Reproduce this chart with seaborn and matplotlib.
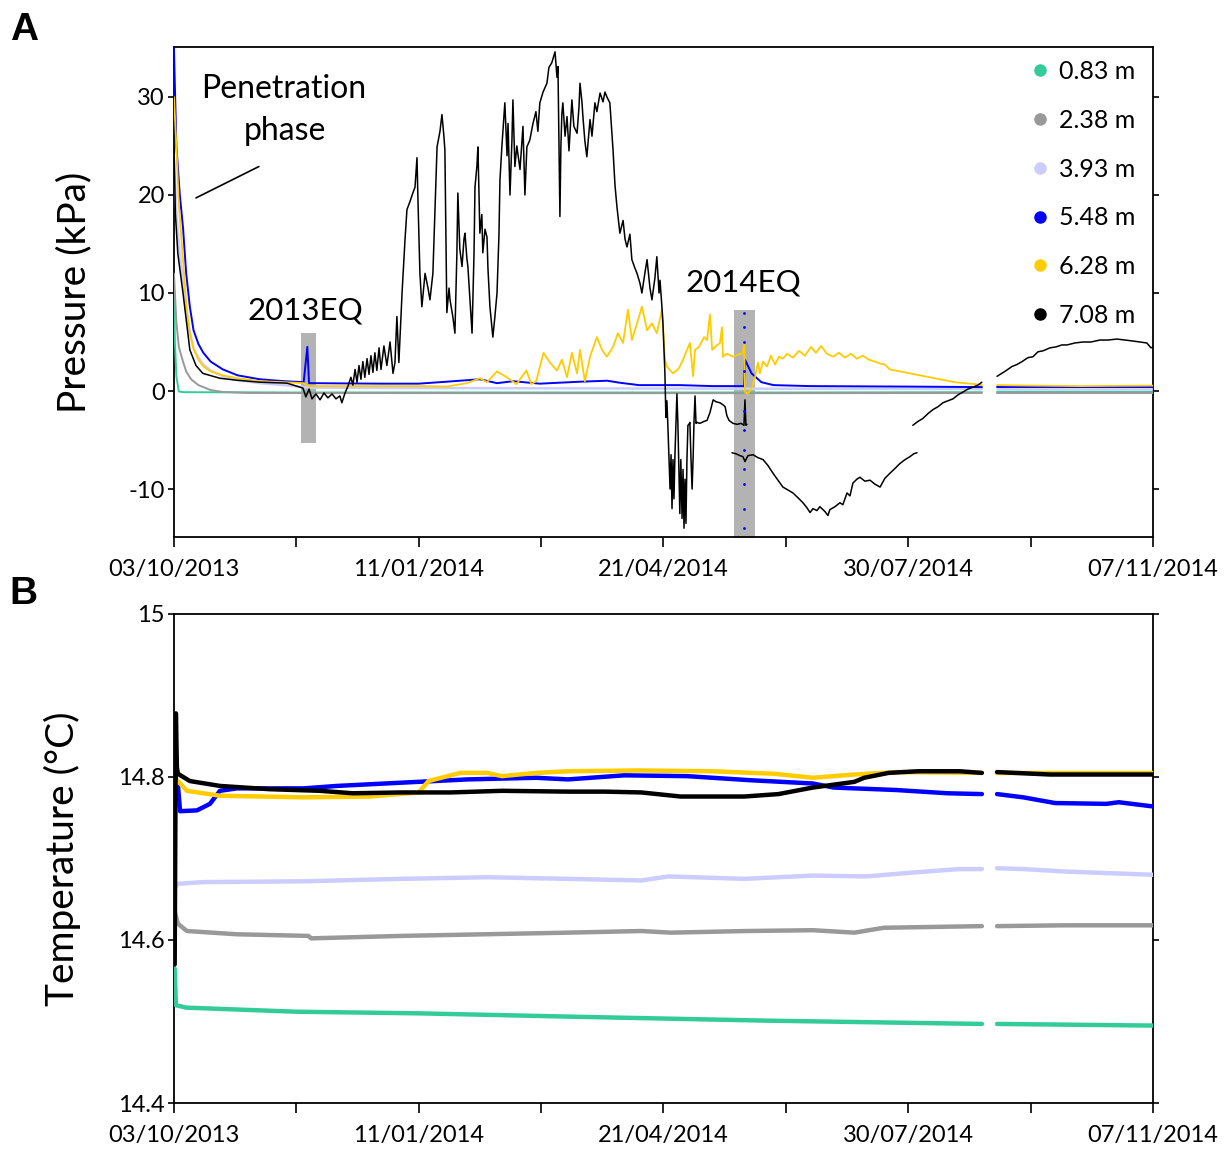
import numpy as np
import pandas as pd
import matplotlib
matplotlib.use("Agg")
import matplotlib.pyplot as plt
import matplotlib.dates as mdates
from matplotlib.lines import Line2D
from matplotlib.ticker import FixedLocator, FixedFormatter, FuncFormatter
import seaborn as sns

# ---------------------------------------------------------------------------
# Data: days since deployment (03/10/2013) and readings
# ---------------------------------------------------------------------------
START = pd.Timestamp("2013-10-03")

DEPTHS = ["0.83 m", "2.38 m", "3.93 m", "5.48 m", "6.28 m", "7.08 m"]
COLORS = ["#33CC99", "#999999", "#CCCCFF", "#0000FF", "#FFCC00", "#000000"]

# Pressure (kPa), each sensor given as a list of continuous segments of (day, value)
P_083 = [[(0, 11), (0.4, 5), (1.0, 1.5), (2.0, -0.05), (4, -0.12), (50, -0.15), (150, -0.15),
          (250, -0.15), (330.1, -0.12)],
         [(336.3, -0.12), (400, -0.12)]]
P_238 = [[(0, 12), (1.0, 7), (2.0, 4.5), (3.7, 3.0), (5.0, 2.0), (7.0, 1.2), (10, 0.6), (15, 0.1),
          (20, -0.1), (30, -0.2), (150, -0.22), (250, -0.22), (330.1, -0.2)],
         [(336.3, -0.2), (400, -0.2)]]
P_393 = [[(0, 24), (1.0, 18), (2.4, 14), (3.7, 11), (5.0, 8), (6.5, 6), (8.0, 4.4), (10, 3.4),
          (12, 2.7), (15, 2.1), (20, 1.5), (26, 1.1), (35, 0.8), (45, 0.6), (55, 0.35),
          (100, 0.3), (200, 0.25), (330.1, 0.2)],
         [(336.3, 0.2), (400, 0.2)]]
P_548 = [[(0, 35), (1.0, 25), (2.4, 20), (3.7, 16.7), (5.0, 12), (6.5, 8.6), (8.0, 6.2), (10, 4.8),
          (12, 3.9), (15, 3.0), (20, 2.2), (26, 1.6), (35, 1.2), (45, 1.0), (53, 0.9), (54.5, 4.5),
          (55.2, 0.8), (85, 0.75), (100, 0.75), (111.5, 0.95), (125, 1.2), (132, 0.8), (138.5, 1.0),
          (149.5, 0.75), (166, 0.95), (177, 1.05), (182, 0.85), (190, 0.6), (206.7, 0.6),
          (220, 0.5), (233.0, 0.5), (233.3, 3.2), (236, 1.8), (240, 0.9), (245, 0.6), (260, 0.5),
          (300, 0.45), (330.1, 0.4)],
         [(336.3, 0.4), (370, 0.4), (400, 0.4)]]
P_628 = [[(0, 30), (1.0, 25), (2.0, 19), (3.7, 13.4), (5.0, 9), (6.5, 5.9), (8.0, 4.3), (10, 3.2),
          (12, 2.5), (15, 2.0), (20, 1.6), (26, 1.3), (35, 1.0), (45, 0.9), (53, 0.8), (55, 0.5),
          (80, 0.5), (100, 0.5), (111.5, 0.45), (119.7, 0.8), (125, 1.3), (127.9, 0.9), (132, 2.0),
          (136, 1.4), (140, 0.7), (144, 2.1), (146, 0.7), (148, 1.0), (151, 3.9), (153.6, 2.9),
          (156.5, 2.1), (158.5, 3.2), (160.6, 1.4), (162.6, 3.9), (164.7, 1.8), (165.9, 4.2),
          (167.9, 1.0), (170, 3.5), (172.8, 5.5), (174.9, 4.2), (176.9, 3.5), (179.4, 4.5),
          (181.4, 5.9), (183.5, 4.9), (185.5, 8.3), (187.1, 5.2), (189.2, 6.9), (191.2, 8.6),
          (193.3, 6.2), (195.3, 6.9), (197.3, 5.9), (199.4, 8.3), (200.6, 3.2), (201.4, 2.5),
          (203.9, 1.8), (206.3, 2.3), (208.0, 3.2), (210.8, 4.9), (212.1, 1.5), (212.9, 4.2),
          (214.5, 4.5), (216.6, 5.5), (217.8, 5.2), (219.0, 7.8), (219.9, 4.2), (221.5, 4.6),
          (223.1, 4.9), (223.9, 6.5), (224.3, 3.5), (226.0, 3.8), (228.4, 3.5), (230.5, 3.7),
          (232.5, 3.9), (233.0, 5.0), (233.3, -0.1), (234.5, -0.3), (236.2, 0.4), (237.5, 1.5),
          (238.6, 2.9), (239.4, 1.8), (240.7, 3.0), (242.3, 2.5), (243.9, 3.6), (245.6, 2.7),
          (247.2, 3.5), (248.8, 3.3), (250.5, 3.8), (252.9, 3.4), (255.4, 4.1), (257.8, 3.6),
          (260.3, 4.5), (262.3, 3.9), (264.4, 4.6), (266.8, 3.8), (269.3, 3.5), (271.7, 3.9),
          (274.2, 3.4), (276.6, 3.8), (279.0, 3.3), (281.5, 3.6), (283.9, 3.2), (286.4, 3.0),
          (288.5, 2.8), (290.5, 2.7), (292.5, 2.2), (294.6, 2.1), (298.7, 1.9), (302.7, 1.7),
          (306.8, 1.5), (310.9, 1.3), (314.9, 1.1), (319.0, 0.9), (323.1, 0.8), (327.2, 0.7),
          (330.1, 0.6)],
         [(336.3, 0.6), (350, 0.55), (370, 0.5), (400, 0.55)]]
P_708 = [[(0, 25), (0.6, 18), (1.6, 14), (3.7, 10), (6.5, 4.2), (9.0, 2.6), (11.8, 1.8), (18.8, 1.3),
          (25.7, 1.1), (35.1, 0.9), (46.2, 0.8), (52.7, 0.3), (53.9, -0.6), (55.2, 0.2), (56.4, -0.8),
          (58.0, -0.3), (59.7, -0.9), (61.3, -0.2), (62.9, -0.7), (64.6, -0.3), (66.2, -0.8),
          (67.8, -0.5), (68.6, -1.2), (69.9, -0.2), (71.1, 0.5), (72.3, 1.4), (73.1, 0.6),
          (74.0, 2.2), (74.8, 0.9), (75.6, 2.6), (76.4, 1.2), (77.2, 3.0), (78.0, 1.4), (78.9, 3.3),
          (79.7, 1.7), (80.5, 3.6), (81.3, 1.9), (82.1, 3.9), (82.9, 2.1), (83.8, 4.4), (84.6, 2.2),
          (85.8, 4.6), (87.0, 2.6), (88.3, 5.0), (89.5, 1.8), (90.3, 2.9), (91.1, 7.6), (91.9, 2.9),
          (93.2, 10), (94.4, 15.4), (95.2, 18.5), (96.4, 19.3), (97.6, 20.2), (98.5, 20.8),
          (99.3, 23.8), (99.7, 19.5), (100.5, 12), (101.3, 8.6), (102.6, 12), (103.8, 10.5),
          (104.6, 9.3), (105.8, 12), (106.6, 18), (107.5, 24.9), (108.7, 26.5), (109.5, 28.2),
          (110.3, 26), (110.7, 24.6), (111.5, 8), (112.4, 10.5), (112.8, 9.3), (114.0, 7.5),
          (114.8, 5.9), (115.6, 14), (116.0, 20.2), (116.8, 14.5), (117.7, 12.7), (118.5, 15.5),
          (118.9, 16.1), (119.7, 13.5), (120.1, 12.7), (120.9, 9.5), (121.8, 5.9), (122.6, 14),
          (123.0, 20.8), (123.8, 23), (124.2, 24.9), (125.0, 16.1), (125.8, 18), (126.2, 14.1),
          (127.1, 16.5), (127.9, 15.7), (128.3, 12.5), (129.1, 8.6), (130.3, 5.5), (131.1, 7.5),
          (132.0, 10), (132.8, 16), (133.2, 21.5), (134.0, 25), (135.2, 29.4), (136.1, 24),
          (136.5, 27.3), (137.3, 20), (138.1, 25.6), (138.5, 29.7), (139.3, 22.9), (140.1, 25),
          (141.4, 22.6), (142.6, 27), (143.4, 20), (144.2, 24.9), (145.4, 25.6), (146.7, 27.3),
          (147.9, 28.5), (148.7, 26.5), (149.5, 29.4), (150.8, 30.5), (152.4, 31.4), (153.2, 33),
          (154.4, 33.5), (155.7, 34.6), (156.5, 32), (156.9, 33.1), (157.7, 17.8), (158.1, 25),
          (158.5, 28.3), (158.9, 29.4), (159.8, 26), (160.6, 28), (161.4, 24.5), (162.6, 29.7),
          (163.4, 27), (164.7, 26.3), (165.5, 29), (165.9, 31.4), (166.7, 29.5), (167.1, 28),
          (167.9, 25.5), (168.7, 23.9), (170.0, 27.7), (170.8, 26), (172.0, 29.4), (172.8, 28.5),
          (174.1, 30.4), (175.3, 29.5), (176.1, 30.5), (176.9, 30), (178.1, 29.4), (179.4, 24.6),
          (180.2, 21), (181.0, 18.8), (182.2, 16.1), (183.5, 17.4), (184.3, 15.5), (185.1, 14.7),
          (186.3, 16), (187.1, 13.4), (188.4, 12.5), (189.2, 12), (190.4, 11), (191.2, 10),
          (192.4, 12), (193.3, 13.4), (194.5, 10.5), (195.3, 9.3), (196.5, 11.5), (197.3, 13.7),
          (198.2, 10), (198.6, 11.3), (199.4, 8.5), (199.8, 6.9), (200.6, 1.8), (201.0, -2.7),
          (201.4, -1), (201.8, -3.5), (202.2, -6.3), (202.7, -10), (203.1, -6.5), (203.5, -12),
          (203.9, -7), (204.3, -11), (204.7, -6.5), (205.1, -3.3), (205.5, -0.3), (205.9, -3.3),
          (206.3, -8), (206.7, -12.5), (207.1, -7), (207.6, -13), (208.0, -8), (208.4, -14),
          (208.8, -9), (209.2, -13.5), (209.6, -7), (210.0, -3.5), (210.4, -3.4), (210.8, -3.2),
          (211.2, -6.5), (211.7, -10), (212.1, -7), (212.5, -3.0), (212.9, -0.5), (213.3, -3.3),
          (213.7, -3.2), (214.9, -3.3), (216.6, -3.1), (217.8, -3.0), (219.0, -2.2), (220.3, -0.9),
          (221.5, -1.1), (223.1, -1.2), (224.3, -1.4), (225.2, -1.6), (225.9, -2.5), (226.8, -3.0),
          (228.4, -3.3), (230.1, -3.4), (231.7, -3.3), (232.9, -3.5), (233.3, -0.9), (233.7, -3.5),
          (234.1, -3.4)],
         [(228.0, -6.3), (229.6, -6.4), (231.3, -6.6), (232.5, -6.7), (233.3, -7.2), (234.5, -6.6),
          (236.6, -6.5), (238.6, -6.8), (240.7, -7.0), (242.7, -7.6), (244.8, -8.4), (246.8, -9.1),
          (248.8, -9.8), (250.9, -10.1), (252.9, -10.4), (255.0, -10.9), (257.0, -11.4),
          (258.6, -11.9), (259.9, -12.4), (261.1, -12.0), (262.7, -12.2), (263.9, -11.8),
          (266.0, -12.3), (267.2, -12.7), (268.0, -12.1), (270.1, -11.8), (272.1, -11.4),
          (273.3, -11.6), (275.0, -10.4), (276.2, -10.7), (277.4, -9.4), (279.0, -9.0),
          (280.3, -8.8), (282.3, -9.2), (284.4, -9.1), (286.4, -9.5), (288.5, -9.8), (290.5, -8.9),
          (292.5, -8.4), (294.6, -7.9), (296.6, -7.4), (298.7, -7.0), (300.7, -6.7), (302.3, -6.4),
          (303.6, -6.3)],
         [(301.9, -3.5), (304.0, -3.1), (306.0, -2.8), (308.1, -2.3), (310.1, -1.9), (312.2, -1.6),
          (314.2, -1.2), (316.2, -1.0), (318.3, -0.8), (320.3, -0.4), (322.4, -0.1), (324.4, 0.2),
          (326.5, 0.4), (328.5, 0.6), (330.1, 0.9)],
         [(336.3, 1.5), (339.5, 2.0), (342.4, 2.5), (344.4, 2.7), (346.5, 3.0), (348.9, 3.4),
          (351.0, 3.5), (353.0, 4.0), (355.1, 4.1), (357.9, 4.4), (360.4, 4.5), (362.8, 4.7),
          (364.9, 4.7), (368.1, 4.9), (371.4, 5.0), (374.7, 5.0), (378.3, 5.2), (381.6, 5.2),
          (385.3, 5.3), (388.6, 5.2), (391.8, 5.1), (394.7, 5.0), (397.5, 4.9), (399.2, 4.4),
          (400, 4.5)]]
PRESSURE = [P_083, P_238, P_393, P_548, P_628, P_708]

# Scattered 5.48 m readings recorded during the 2014 event
EQ14_DAY = 233.1
EQ14_BLUE = [8.0, 6.5, 5.0, 2.0, -2.0, -4.0, -6.0, -8.0, -9.5, -12.0, -14.0]

# Temperature (°C)
T_083 = [[(0.3, 14.565), (0.8, 14.52), (5, 14.517), (50, 14.512), (100, 14.510), (161, 14.506),
          (243, 14.501), (330.1, 14.497)],
         [(336.3, 14.497), (400, 14.495)]]
T_238 = [[(0.3, 14.635), (1.6, 14.620), (5.3, 14.611), (25.7, 14.607), (55.0, 14.605),
          (56.0, 14.602), (93, 14.605), (161, 14.609), (191, 14.611), (203, 14.609),
          (234, 14.611), (261, 14.612), (278, 14.609), (290, 14.615), (330.1, 14.617)],
         [(336.3, 14.617), (364, 14.618), (400, 14.618)]]
T_393 = [[(0.5, 14.665), (1.6, 14.669), (12, 14.671), (53, 14.672), (93, 14.675), (128, 14.677),
          (161, 14.675), (191, 14.673), (202, 14.678), (233, 14.675), (261, 14.679),
          (283, 14.678), (303, 14.683), (321, 14.687), (330.1, 14.687)],
         [(336.3, 14.688), (347, 14.687), (364, 14.684), (400, 14.680)]]
T_548 = [[(0.5, 14.800), (1.6, 14.791), (2.5, 14.758), (9.4, 14.759), (14.7, 14.767),
          (18.8, 14.783), (25.7, 14.786), (53, 14.786), (66.6, 14.789), (93, 14.793),
          (120, 14.797), (148, 14.799), (161, 14.797), (184, 14.802), (209.7, 14.801),
          (235.5, 14.796), (261, 14.792), (269.6, 14.787), (295, 14.784), (316, 14.780),
          (330.1, 14.779)],
         [(336.3, 14.779), (347, 14.775), (360, 14.768), (381, 14.767), (386, 14.769),
          (399.5, 14.764)]]
T_628 = [[(0.4, 14.790), (1.6, 14.795), (5.3, 14.783), (18.8, 14.777), (53, 14.775),
          (80, 14.776), (100, 14.781), (104, 14.795), (117, 14.805), (128, 14.805),
          (134, 14.801), (148, 14.805), (161, 14.807), (190, 14.808), (220, 14.807),
          (245, 14.804), (261, 14.799), (278, 14.803), (295, 14.806), (330.1, 14.805)],
         [(336.3, 14.805), (400, 14.805)]]
T_708 = [[(0.3, 14.57), (0.8, 14.878), (1.2, 14.812), (1.6, 14.804), (6.5, 14.795),
          (18.8, 14.789), (39, 14.785), (59.7, 14.783), (73, 14.780), (93, 14.781),
          (113, 14.781), (134, 14.783), (161, 14.782), (176, 14.782), (191, 14.781),
          (207, 14.776), (233, 14.776), (247, 14.779), (261, 14.787), (278, 14.794),
          (282, 14.799), (292, 14.805), (304, 14.807), (321, 14.807), (330.1, 14.805)],
         [(336.3, 14.806), (358, 14.803), (400, 14.803)]]
TEMPERATURE = [T_083, T_238, T_393, T_548, T_628, T_708]

# Earthquake windows: (first day, last day, low, high)
EQ_WINDOWS = [(51.9, 58.0, -5.3, 5.9), (228.8, 237.4, -15.0, 8.3)]
EQ_LABELS = [("2013EQ", 53.5, 8.2), ("2014EQ", 232.5, 11.1)]

TICK_DAYS = [0, 50, 100, 150, 200, 250, 300, 350, 400]


def to_dates(days):
    return START + pd.to_timedelta(np.asarray(days, dtype=float), unit="D")


def long_frame(segments):
    rows = []
    for k, seg in enumerate(segments):
        for d, v in seg:
            rows.append((d, v, k))
    df = pd.DataFrame(rows, columns=["day", "value", "seg"])
    df["date"] = to_dates(df["day"])
    return df


# ---------------------------------------------------------------------------
# Figure
# ---------------------------------------------------------------------------
sns.set_theme(style="ticks")
plt.rcParams["font.family"] = ["Lato", "DejaVu Sans"]
plt.rcParams["axes.unicode_minus"] = False
plt.rcParams["text.color"] = "black"
plt.rcParams["axes.labelcolor"] = "black"

fig = plt.figure(figsize=(12.31, 11.51), dpi=100)
axA = fig.add_axes([0.1413, 0.5334, 0.7953, 0.4258])
axB = fig.add_axes([0.1413, 0.0417, 0.7953, 0.4249])

x0 = mdates.date2num(START)
x1 = mdates.date2num(START + pd.Timedelta(days=400))

# --- Panel A: pressure ---
for (d0, d1, lo, hi) in EQ_WINDOWS:
    dd = to_dates([d0, d1])
    axA.fill_between(dd, [lo, lo], [hi, hi], color="#B3B3B3", lw=0, zorder=1)

p_widths = [1.4, 1.4, 1.8, 1.4, 1.3, 1.1]
for segs, col, lw in zip(PRESSURE, COLORS, p_widths):
    sns.lineplot(data=long_frame(segs), x="date", y="value", units="seg", estimator=None,
                 sort=False, color=col, lw=lw, ax=axA, legend=False, zorder=3)

sns.scatterplot(x=to_dates([EQ14_DAY] * len(EQ14_BLUE)), y=EQ14_BLUE, color="#0000FF",
                s=4, linewidth=0, ax=axA, legend=False, zorder=4)

axA.set_xlim(x0, x1)
axA.set_ylim(-14.9, 35.1)
axA.set_yticks([-10, 0, 10, 20, 30])
axA.set_ylabel("Pressure (kPa)", fontsize=28)
axA.yaxis.set_label_coords(-0.083, 0.5)
axA.set_xlabel("")

for name, d, y in EQ_LABELS:
    axA.text(mdates.date2num(to_dates([d])[0]), y, name, ha="center", va="center", fontsize=22.5)

axA.text(mdates.date2num(to_dates([44.9])[0]), 30.8, "Penetration", ha="center", va="center",
         fontsize=23)
axA.text(mdates.date2num(to_dates([45.3])[0]), 26.5, "phase", ha="center", va="center",
         fontsize=23)
lx = mdates.date2num(to_dates([9.0, 34.7]))
axA.plot(lx, [19.7, 22.9], color="black", lw=1.2)

handles = [Line2D([], [], marker="o", ls="", color=c, markersize=8) for c in COLORS]
axA.legend(handles, DEPTHS, loc="upper right", bbox_to_anchor=(0.997, 1.004), frameon=False,
           fontsize=18, handletextpad=0.25, handlelength=1.0, labelspacing=1.03,
           borderaxespad=0.2)

# --- Panel B: temperature ---
for segs, col in zip(TEMPERATURE, COLORS):
    sns.lineplot(data=long_frame(segs), x="date", y="value", units="seg", estimator=None,
                 sort=False, color=col, lw=3.2, ax=axB, legend=False, zorder=3)

axB.set_xlim(x0, x1)
axB.set_ylim(14.4, 15.0)
axB.yaxis.set_major_locator(FixedLocator([14.4, 14.6, 14.8, 15.0]))
axB.yaxis.set_major_formatter(FixedFormatter(["14.4", "14.6", "14.8", "15"]))
axB.set_ylabel("Temperature (°C)", fontsize=28)
axB.yaxis.set_label_coords(-0.095, 0.5)
axB.set_xlabel("")

# --- shared styling ---
tick_pos = mdates.date2num(to_dates(TICK_DAYS))


def date_label(v, pos):
    d = mdates.num2date(v)
    k = int(round(v - x0))
    return d.strftime("%d/%m/%Y") if k % 100 == 0 else ""


for ax in (axA, axB):
    ax.xaxis.set_major_locator(FixedLocator(tick_pos))
    ax.xaxis.set_major_formatter(FuncFormatter(date_label))
    ax.tick_params(axis="x", direction="out", length=7, width=1.2, labelsize=17, pad=9,
                   colors="black")
    ax.tick_params(axis="y", direction="out", length=4.5, width=1.2, labelsize=17, pad=2,
                   left=True, right=True, colors="black")
    for side in ("left", "right", "top", "bottom"):
        ax.spines[side].set_visible(True)
        ax.spines[side].set_color("black")
        ax.spines[side].set_linewidth(1.3)
    ax.set_facecolor("white")

fig.text(0.008, 0.990, "A", fontsize=28, fontweight="bold", va="top", ha="left",
         family="Liberation Sans")
fig.text(0.008, 0.500, "B", fontsize=28, fontweight="bold", va="top", ha="left",
         family="Liberation Sans")

fig.savefig("out.png", dpi=100, facecolor="white")
